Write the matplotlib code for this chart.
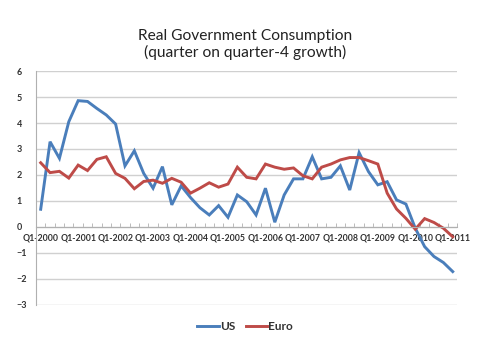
import numpy as np
import matplotlib
matplotlib.use('Agg')
import matplotlib.pyplot as plt

plt.rcParams['font.family'] = ['Lato', 'DejaVu Sans']

# quarters Q1-2000 .. Q1-2011
quarters = ['Q%d-%d' % (q, y) for y in range(2000, 2012) for q in range(1, 5)][:45]

us = [0.68, 3.28, 2.64, 4.05, 4.86, 4.83, 4.56, 4.31, 3.96, 2.35,
      2.93, 2.06, 1.49, 2.32, 0.85, 1.58, 1.13, 0.74, 0.46, 0.82,
      0.37, 1.23, 0.97, 0.46, 1.49, 0.18, 1.23, 1.85, 1.85, 2.70,
      1.85, 1.91, 2.35, 1.42, 2.86, 2.13, 1.62, 1.74, 1.04, 0.88,
      -0.05, -0.76, -1.14, -1.37, -1.72]

euro = [2.47, 2.09, 2.14, 1.88, 2.38, 2.17, 2.60, 2.70, 2.06, 1.87,
        1.47, 1.75, 1.80, 1.68, 1.87, 1.72, 1.30, 1.49, 1.70, 1.53,
        1.65, 2.30, 1.91, 1.85, 2.42, 2.30, 2.22, 2.27, 1.97, 1.85,
        2.30, 2.42, 2.58, 2.67, 2.67, 2.55, 2.42, 1.30, 0.69, 0.33,
        -0.09, 0.32, 0.17, -0.05, -0.38]

fig = plt.figure(figsize=(4.9, 3.5), dpi=100)
ax = fig.add_axes([0.0735, 0.129, 0.86, 0.668])

x = np.arange(len(quarters))
ax.plot(x, us, color='#4a7ebb', lw=2.1, label='US', solid_joinstyle='miter')
ax.plot(x, euro, color='#be4b48', lw=2.1, label='Euro', solid_joinstyle='miter')

ax.set_xlim(-0.5, len(quarters) - 0.5)
ax.set_ylim(-3, 6)
ax.set_yticks(range(-3, 7))
ax.yaxis.grid(True, color='#d0d0d0', lw=1)
ax.set_axisbelow(True)

for s in ['top', 'right']:
    ax.spines[s].set_visible(False)
ax.spines['bottom'].set_position(('data', 0))
ax.spines['bottom'].set_color('#b0b0b0')
ax.spines['left'].set_color('#b0b0b0')

ax.set_xticks(x[::4])
ax.set_xticklabels(quarters[::4], fontsize=6.3, fontweight='bold', color='#333333')
ax.set_xticks(np.arange(-0.5, len(quarters), 1), minor=True)
ax.tick_params(axis='x', which='major', length=0, pad=5)
ax.tick_params(axis='x', which='minor', length=3, direction='in', color='#b0b0b0')
ax.tick_params(axis='y', length=0, labelsize=6.5, pad=14, colors='#333333')
for t in ax.get_yticklabels():
    t.set_fontweight('bold')
    t.set_horizontalalignment('left')

fig.suptitle('Real Government Consumption\n(quarter on quarter-4 growth)',
             x=0.5, y=0.918, fontsize=11.2, color='#222222', linespacing=1.15)

leg = fig.legend(loc='center', bbox_to_anchor=(0.5, 0.068), ncol=2, frameon=False,
                 fontsize=8.5, handlelength=1.8, handletextpad=0.1, columnspacing=0.9)
for t in leg.get_texts():
    t.set_fontweight('bold')
    t.set_color('#333333')

fig.savefig('out.png', dpi=100, facecolor='white')
